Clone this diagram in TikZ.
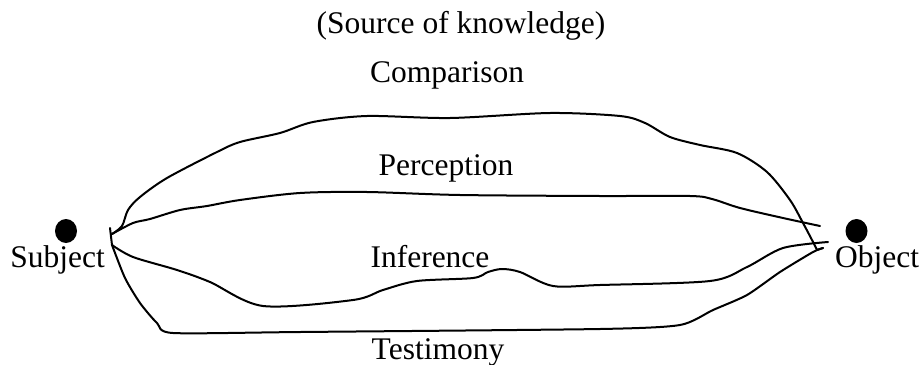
\documentclass[tikz,border=0pt]{standalone}
\usepackage{fontspec}
\setmainfont{Liberation Serif}
\usetikzlibrary{calc,positioning,shapes.geometric}

\tikzset{
  lbl/.style={anchor=base, inner sep=0pt, font=\fontsize{31.5}{36}\selectfont},
  blob/.style={ellipse, fill=black, inner sep=0pt, minimum width=22pt, minimum height=24pt},
  way/.style={line width=2pt, line join=round, line cap=round}
}

\begin{document}
\begin{tikzpicture}[x=1pt, y=-1pt]
    \useasboundingbox (0,0) rectangle (923,364);
    % labels
    \node[lbl] (src) at (461,33) {(Source of knowledge)};
    \node[lbl] (cmp) at (447,82) {Comparison};
    \node[lbl] (per) at (446,175) {Perception};
    \node[lbl] (inf) at (430,267) {Inference};
    \node[lbl] (tes) at (438,359) {Testimony};
    \node[lbl] (subj) at (57.5,267) {Subject};
    \node[lbl] (obj) at (877,267) {Object};
    % the two dots
    \node[blob] (sdot) at (66,231) {};
    \node[blob] (odot) at (856.5,231) {};
    % ends of the lines
    \coordinate (stick) at (110,228);
    \coordinate (sA) at (112,234);
    \coordinate (sB) at (112,245);
    \coordinate (oC) at (817,250);
    \coordinate (oP) at (820,226);
    \coordinate (oI) at (828,242);
    \coordinate (oT) at (823,248);
    \draw[way] (stick) -- (sB);
    % comparison
    \draw[way] plot[smooth, tension=0.5] coordinates {(sA) (122,226) (128,210) (140,197) (167,178) (217,152)
        (240,142) (280,133) (313,122) (367,116) (450,118) (550,113) (620,116) (645,123) (670,137) (700,145)
        (737,153) (767,172) (790,200) (803,223) (812,240) (oC)} -- (oT);
    % perception
    \draw[way] plot[smooth, tension=0.5] coordinates {(sA) (133,223) (150,219) (180,210) (207,206) (240,200)
        (300,193) (367,192) (460,195) (600,196) (690,196) (712,199) (740,208) (783,218) (oP)};
    % inference
    \draw[way] plot[smooth, tension=0.5] coordinates {(sB) (133,257) (177,270) (210,282) (263,306) (353,300)
        (383,290) (417,281) (473,278) (488,272) (502,269) (520,272) (553,286) (600,285) (710,281)
        (747,267) (783,248) (oI)};
    % testimony
    \draw[way] plot[smooth, tension=0.4] coordinates {(sB) (125,278) (140,303) (157,323) (173,333) (300,332)
        (600,329) (680,325) (713,310) (747,295) (780,272) (813,252) (oT)};
\end{tikzpicture}
\end{document}
